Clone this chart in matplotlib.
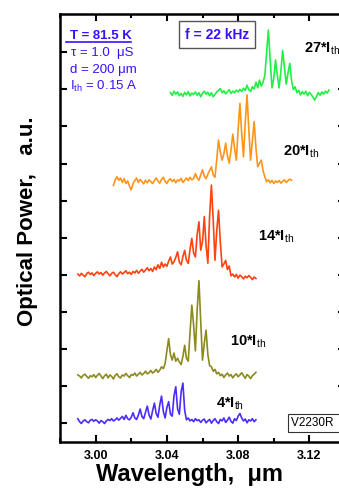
import numpy as np
import matplotlib
matplotlib.use("Agg")
import matplotlib.pyplot as plt
from matplotlib.ticker import MultipleLocator

plt.rcParams['font.family'] = ['Liberation Sans', 'DejaVu Sans']
plt.rcParams['mathtext.fontset'] = 'custom'
plt.rcParams['mathtext.rm'] = 'Liberation Sans'
plt.rcParams['mathtext.bf'] = 'Liberation Sans:bold'

# spectra: start wavelength (um), step 0.001 um, intensity above baseline (a.u.)
step = 0.001

start_4 = 2.990
offset_4 = 0.54
spec_4 = [0.08, 0.00, -0.05, 0.02, 0.05, 0.00, -0.03, 0.04, 0.06, 0.01,
          0.05, 0.02, -0.04, 0.03, 0.00, -0.05, 0.02, 0.06, 0.03, 0.08,
          0.02, 0.05, 0.10, 0.04, 0.09, 0.14, 0.06, 0.17, 0.08, 0.05,
          0.12, 0.24, 0.10, 0.06, 0.18, 0.34, 0.14, 0.08, 0.25, 0.42,
          0.18, 0.07, 0.30, 0.50, 0.22, 0.12, 0.45, 0.69, 0.28, 0.10,
          0.38, 0.54, 0.20, 0.15, 0.70, 0.94, 0.35, 0.20, 0.80, 1.04,
          0.30, 0.05, 0.10, 0.02, 0.06, 0.00, 0.08, 0.03, 0.05, -0.02,
          0.04, 0.07, -0.03, 0.02, 0.06, -0.04, 0.03, 0.08, 0.00, -0.05,
          0.06, 0.02, 0.10, -0.02, 0.04, 0.12, 0.01, -0.04, 0.08, 0.03,
          0.15, 0.22, 0.10, 0.02, 0.07, -0.03, 0.05, 0.02, 0.08, 0.00,
          0.05]

start_10 = 2.990
offset_10 = 1.75
spec_10 = [0.05, 0.02, -0.03, 0.04, 0.07, 0.01, -0.04, 0.03, 0.00, 0.06,
           -0.02, 0.04, 0.09, 0.02, -0.05, 0.03, 0.07, -0.03, 0.05, 0.01,
           -0.06, 0.04, 0.08, 0.00, -0.03, 0.05, 0.02, 0.09, 0.03, -0.02,
           0.06, 0.04, 0.10, 0.02, 0.07, 0.12, 0.05, 0.09, 0.15, 0.08,
           0.11, 0.17, 0.10, 0.14, 0.20, 0.12, 0.18, 0.27, 0.22, 0.35,
           0.70, 1.03, 0.60, 0.45, 0.64, 0.42, 0.50, 0.40, 0.33, 0.55,
           0.85, 0.50, 0.42, 1.20, 1.93, 1.40, 0.70, 1.80, 2.59, 1.50,
           0.45, 0.90, 1.26, 0.60, 0.30, 0.27, 0.15, 0.20, 0.08, 0.12,
           0.03, 0.07, -0.02, 0.05, 0.10, 0.02, 0.06, -0.03, 0.04, 0.08,
           0.00, 0.05, 0.11, 0.03, -0.04, 0.06, 0.02, -0.05, 0.03, 0.07,
           0.12]

start_14 = 2.990
offset_14 = 4.49
spec_14 = [0.03, -0.02, 0.05, 0.00, -0.04, 0.04, 0.08, 0.02, 0.06, -0.01,
           0.05, 0.09, 0.03, 0.07, 0.00, 0.06, 0.10, 0.04, -0.02, 0.05,
           0.08, 0.01, -0.04, 0.04, 0.09, 0.03, 0.07, 0.12, 0.04, 0.08,
           0.02, 0.10, 0.06, 0.13, 0.05, 0.11, 0.16, 0.08, 0.14, 0.20,
           0.12, 0.18, 0.10, 0.22, 0.15, 0.28, 0.18, 0.35, 0.22, 0.30,
           0.24, 0.38, 0.49, 0.30, 0.36, 0.48, 0.63, 0.35, 0.28, 0.50,
           0.67, 0.40, 0.32, 0.70, 0.99, 0.60, 0.49, 1.10, 1.44, 0.67,
           0.90, 1.58, 0.80, 0.32, 1.60, 2.43, 1.50, 0.40, 1.20, 1.75,
           0.90, 0.22, 0.30, 0.40, 0.15, 0.25, -0.02, 0.03, -0.05, 0.02,
           -0.08, 0.00, -0.04, -0.10, -0.03, -0.07, -0.01, -0.06, -0.12, -0.05,
           -0.09]

start_20 = 3.010
offset_20 = 7.01
spec_20 = [-0.10, 0.05, 0.13, 0.04, 0.10, -0.02, 0.08, -0.05, 0.02, -0.12,
           -0.22, -0.05, 0.03, 0.10, -0.02, 0.06, 0.00, -0.06, 0.04, -0.03,
           0.05, 0.00, -0.05, 0.03, 0.10, 0.02, -0.04, 0.06, 0.12, 0.01,
           -0.05, 0.04, 0.08, 0.00, 0.06, -0.03, 0.05, 0.02, 0.09, -0.02,
           0.04, 0.10, 0.03, 0.12, 0.05, 0.08, 0.22, 0.10, 0.04, 0.18,
           0.32, 0.15, 0.08, 0.20, 0.30, 0.40, 0.18, 0.12, 0.60, 1.12,
           0.80, 0.58, 0.75, 1.04, 0.70, 0.50, 0.85, 1.28, 0.90, 0.58,
           1.40, 2.11, 1.30, 0.67, 1.60, 2.34, 1.40, 0.58, 1.10, 1.62,
           0.90, 0.40, 0.50, 0.58, 0.30, 0.13, 0.00, 0.05, -0.03, 0.04,
           -0.05, 0.02, -0.02, 0.03, -0.04, 0.01, 0.05, -0.02, 0.03, 0.07,
           0.04]

start_27 = 3.042
offset_27 = 9.39
spec_27 = [0.02, -0.05, 0.06, -0.02, 0.04, -0.06, 0.00, -0.08, 0.03, -0.04,
           0.05, -0.07, 0.01, -0.03, 0.04, -0.05, 0.02, -0.09, 0.00, 0.06,
           -0.02, 0.03, -0.06, 0.02, -0.09, -0.03, 0.04, 0.08, 0.13, 0.02,
           0.07, -0.01, 0.05, 0.10, 0.00, 0.06, 0.02, 0.09, 0.04, 0.11,
           0.05, 0.14, 0.08, 0.22, 0.10, 0.05, 0.18, 0.12, 0.30, 0.15,
           0.36, 0.20, 0.30, 0.49, 1.10, 1.71, 0.90, 0.15, 0.40, 0.90,
           0.50, 0.15, 0.60, 1.16, 0.70, 0.25, 0.55, 0.81, 0.35, 0.10,
           0.18, 0.02, 0.08, -0.04, 0.05, -0.02, 0.06, -0.06, 0.03, -0.03,
           -0.10, -0.18, -0.08, 0.02, -0.05, 0.04, -0.02, 0.06, 0.01, 0.09]

spectra = [
    (start_4, offset_4, spec_4, '#4a2cff'),
    (start_10, offset_10, spec_10, '#8c8a1e'),
    (start_14, offset_14, spec_14, '#ff4212'),
    (start_20, offset_20, spec_20, '#ff9418'),
    (start_27, offset_27, spec_27, '#22ee44'),
]

fig = plt.figure(figsize=(3.39, 4.91), dpi=100)
ax = fig.add_axes([0.177, 0.1004, 0.8407, 0.871])

for start, offset, vals, color in spectra:
    vals = np.array(vals)
    x = start + step * np.arange(len(vals))
    ax.plot(x, vals + offset, color=color, lw=1.2)

ax.set_xlim(2.98, 3.14)
ax.set_ylim(0, 11.53)
ax.xaxis.set_minor_locator(MultipleLocator(0.02))
ax.set_xticks([3.00, 3.04, 3.08, 3.12])
ax.set_xticklabels(['3.00', '3.04', '3.08', '3.12'], fontsize=9, fontweight='bold')
ax.set_yticks(np.arange(0.5, 11.0, 1.0))
ax.set_yticklabels([])
ax.tick_params(which='both', direction='in', top=True, right=True, width=1.5)
ax.tick_params(which='major', length=5, pad=6)
ax.tick_params(which='minor', length=3)
for s in ax.spines.values():
    s.set_linewidth(1.8)

ax.set_xlabel('Wavelength,  \u03bcm', fontsize=17, fontweight='bold', labelpad=1)
ax.xaxis.label.set_x(0.455)
ax.set_ylabel('Optical Power,   a.u.', fontsize=16, fontweight='bold', labelpad=10)
ax.yaxis.label.set_y(0.515)

blue = '#3a10ff'
ax.text(0.035, 0.948, 'T = 81.5 K', transform=ax.transAxes, color=blue,
        fontsize=9.5, fontweight='bold', va='center', ha='left')
ax.plot([0.022, 0.25], [0.934, 0.934], transform=ax.transAxes, color=blue, lw=1.2)
ax.text(0.04, 0.908, '\u03c4 = 1.0  \u03bcS', transform=ax.transAxes, color=blue,
        fontsize=9.5, va='center', ha='left')
ax.text(0.035, 0.870, 'd = 200 \u03bcm', transform=ax.transAxes, color=blue,
        fontsize=9.5, va='center', ha='left')
ax.text(0.035, 0.830, r'$\mathrm{I}_{\mathrm{th}}$ = 0.15 A', transform=ax.transAxes,
        color=blue, fontsize=9.5, va='center', ha='left')

ax.text(0.551, 0.952, 'f = 22 kHz', transform=ax.transAxes, color=blue,
        fontsize=10, fontweight='bold', va='center', ha='center',
        bbox=dict(boxstyle='square,pad=0.45', fc='white', ec='#555555', lw=1.0))

labels = [('27', 0.855, 0.92), ('20', 0.782, 0.678), ('14', 0.695, 0.48),
          ('10', 0.595, 0.235), ('4', 0.548, 0.09)]
for n, xa, ya in labels:
    ax.text(xa, ya, n + r'*$\mathbf{I}_{\mathrm{th}}$', transform=ax.transAxes,
            fontsize=10.5, fontweight='bold', va='center', ha='left')

ax.text(0.81, 0.043, 'V2230R  ', transform=ax.transAxes, fontsize=8.5,
        va='center', ha='left',
        bbox=dict(boxstyle='square,pad=0.25', fc='white', ec='#333333', lw=0.8))

fig.savefig('out.png', dpi=100)
